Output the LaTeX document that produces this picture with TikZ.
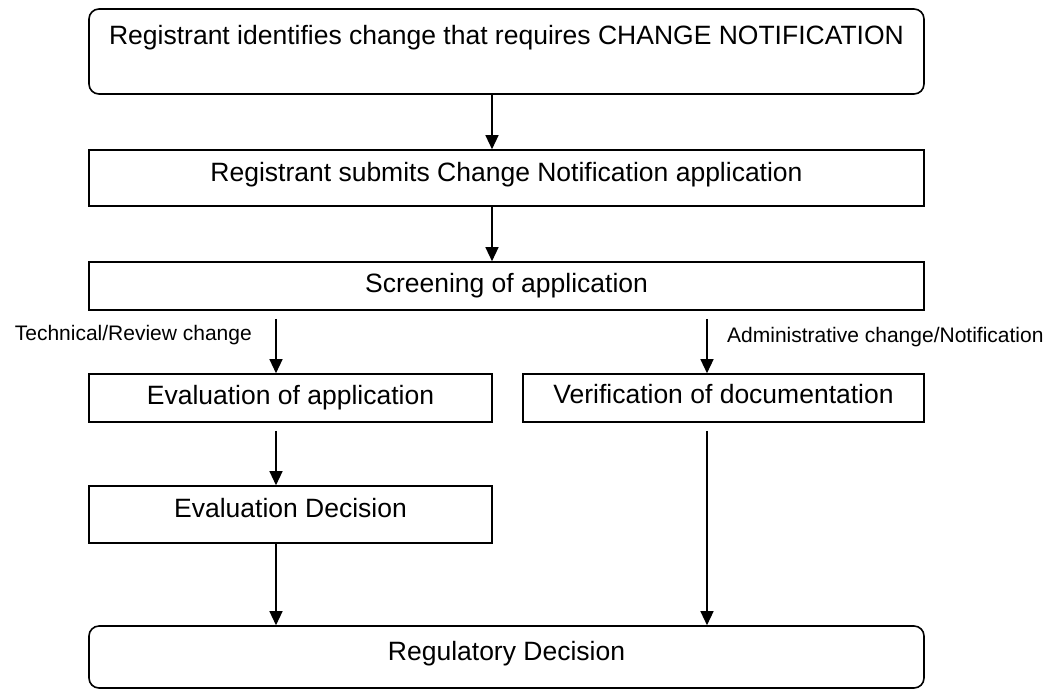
\documentclass[tikz,border=0pt]{standalone}
\usepackage{fontspec}
\setmainfont{Liberation Sans}
\usetikzlibrary{arrows.meta}
\begin{document}
\begin{tikzpicture}[x=1pt,y=-1pt,
  box/.style={draw, line width=1.6pt, inner sep=0pt, font=\fontsize{26.5}{32}\selectfont, text height=19pt},
  rbox/.style={box, rounded corners=10pt},
  arr/.style={line width=1.3pt, -{Triangle[length=14pt,width=13pt]}},
  lbl/.style={font=\fontsize{21}{25}\selectfont, inner sep=0pt}]
\useasboundingbox (0,0) rectangle (1051,689);
\node[rbox, minimum width=835pt, minimum height=85pt, text height=5pt, text depth=20pt] (b1) at (506.5,51.5) {Registrant identifies change that requires CHANGE NOTIFICATION};
\node[box, minimum width=835pt, minimum height=56pt, text depth=13pt] (b2) at (506.5,178) {Registrant submits Change Notification application};
\node[box, minimum width=835pt, minimum height=48pt, text depth=7pt] (b3) at (506.5,286) {Screening of application};
\node[box, minimum width=403pt, minimum height=48pt, text depth=7pt] (eval) at (290.5,398) {Evaluation of application};
\node[box, minimum width=401pt, minimum height=48pt, text depth=9pt] (verif) at (723.5,398) {Verification of documentation};
\node[box, minimum width=403pt, minimum height=57pt, text depth=14pt] (evald) at (290.5,514.5) {Evaluation Decision};
\node[rbox, minimum width=835pt, minimum height=62pt, text depth=13pt] (fin) at (506.5,657) {Regulatory Decision};
\node[lbl, anchor=base east] (lt) at (252,340) {Technical/Review change};
\node[lbl, anchor=base west] (la) at (727,342) {Administrative change/Notification};
\draw[arr] ([xshift=-14.5pt]b1.south) -- ([xshift=-14.5pt]b2.north);
\draw[arr] ([xshift=-14.5pt]b2.south) -- ([xshift=-14.5pt]b3.north);
\coordinate (s1) at ([yshift=-8pt]b3.south);
\coordinate (l1) at ([xshift=-14.5pt]eval.north);
\coordinate (r1) at ([xshift=-16.5pt]verif.north);
\draw[arr] (s1 -| l1) -- (l1);
\draw[arr] (s1 -| r1) -- (r1);
\draw[arr] ([xshift=-14.5pt,yshift=-8pt]eval.south) -- ([xshift=-14.5pt]evald.north);
\coordinate (l2) at ([xshift=-14.5pt]evald.south);
\coordinate (r2) at ([xshift=-16.5pt,yshift=-8pt]verif.south);
\draw[arr] (l2) -- (l2 |- fin.north);
\draw[arr] (r2) -- (r2 |- fin.north);
\end{tikzpicture}
\end{document}
